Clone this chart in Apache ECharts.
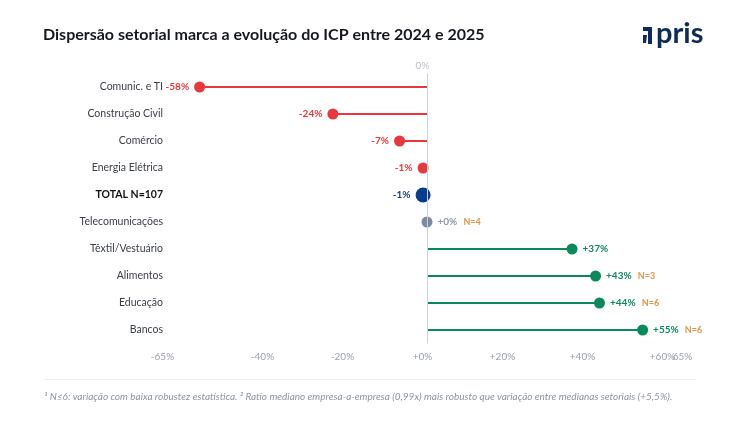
<!DOCTYPE html>
<html>
<head>
<meta charset="utf-8">
<script src="https://cdn.jsdelivr.net/npm/echarts@6/dist/echarts.min.js"></script>
<style>
  html, body { margin: 0; padding: 0; background: #fff; }
  #chart { width: 740px; height: 434px; }
</style>
</head>
<body>
<div id="chart"></div>
<script>
// setores (de cima para baixo)
const categories = ['Comunic. e TI', 'Construção Civil', 'Comércio', 'Energia Elétrica', 'TOTAL N=107',
  'Telecomunicações', 'Têxtil/Vestuário', 'Alimentos', 'Educação', 'Bancos'];
// variação do ICP 2024 -> 2025, em %
const values = [-58, -24, -7, -1, -1, 0, 37, 43, 44, 55];
// amostras pequenas (N<=6)
const sampleNotes = ['', '', '', '', '', 'N=4', '', 'N=3', 'N=6', 'N=6'];
const totalCategory = 'TOTAL N=107';
const tickValues = [-65, -40, -20, 0, 20, 40, 60, 65];

const RED = '#e8383d', GREEN = '#0a8a5a', GRAY = '#7d8ba0', BLUE = '#073c8f', ORANGE = '#e39445';
const FONT = 'Lato';

function kindOf(i) {
  if (categories[i] === totalCategory) return 'blue';
  if (values[i] > 0) return 'green';
  if (values[i] < 0) return 'red';
  return 'gray';
}
const colorOf = { red: RED, green: GREEN, gray: GRAY, blue: BLUE };

function fmtPct(v) {
  return (v >= 0 ? '+' : '') + v + '%';
}

const chart = echarts.init(document.getElementById('chart'));

const stemData = values.map((v, i) => ({
  value: v,
  itemStyle: { color: kindOf(i) === 'blue' ? 'rgba(0,0,0,0)' : colorOf[kindOf(i)] }
}));

const dotData = values.map((v, i) => {
  const k = kindOf(i);
  let txt = '{' + k + '|' + fmtPct(v) + '}';
  if (sampleNotes[i]) txt += '  {n|' + sampleNotes[i] + '}';
  return {
    value: [v, categories[i]],
    symbolSize: k === 'blue' ? 15 : 11,
    itemStyle: { color: colorOf[k], opacity: 1 },
    label: {
      show: true,
      position: v < 0 ? 'left' : 'right',
      distance: 5,
      formatter: txt
    }
  };
});

// o último tick (65%) fica colado no +60%, então vai num eixo próprio
const lastTick = tickValues[tickValues.length - 1];
const labelAxisRange = { min: -65.625, max: 65.125 };
const labelAxisBase = {
  type: 'value', ...labelAxisRange,
  axisLine: { show: false }, axisTick: { show: false }, splitLine: { show: false }
};
const tickLabelStyle = { color: '#9aa1ac', fontSize: 10, margin: 8, fontFamily: FONT, hideOverlap: false };

const option = {
  animation: false,
  backgroundColor: '#fff',
  textStyle: { fontFamily: FONT },
  title: {
    text: 'Dispersão setorial marca a evolução do ICP entre 2024 e 2025',
    left: 38,
    top: 22,
    textStyle: { fontFamily: FONT, fontSize: 16, fontWeight: 'bold', color: '#14181f' }
  },
  grid: { left: 160, right: 57, top: 73.5, bottom: 90.5 },
  xAxis: [
    { type: 'value', min: -68.1, max: 65.3, show: false },
    {
      ...labelAxisBase, position: 'bottom',
      axisLabel: {
        ...tickLabelStyle,
        customValues: tickValues.slice(0, -1),
        formatter: v => fmtPct(v)
      }
    },
    {
      ...labelAxisBase, position: 'bottom',
      axisLabel: {
        ...tickLabelStyle,
        customValues: [lastTick],
        showMaxLabel: true,
        formatter: v => v + '%'
      }
    },
    {
      ...labelAxisBase, position: 'top',
      axisLabel: {
        customValues: [0],
        formatter: () => '0%',
        color: '#b9bfc8', fontSize: 10, margin: 3, fontFamily: FONT
      }
    }
  ],
  yAxis: {
    type: 'category',
    data: categories,
    inverse: true,
    axisLine: { show: false },
    axisTick: { show: false },
    axisLabel: {
      margin: -3,
      color: '#3b4048',
      fontSize: 10.5,
      fontFamily: FONT,
      formatter: v => (v === totalCategory ? '{b|' + v + '}' : v),
      rich: { b: { fontWeight: 'bold', color: '#111', fontSize: 10.5, fontFamily: FONT } }
    }
  },
  series: [
    {
      type: 'bar',
      xAxisIndex: 0,
      barWidth: 2,
      silent: true,
      data: stemData,
      markLine: {
        silent: true,
        symbol: 'none',
        label: { show: false },
        lineStyle: { color: '#c8d2e2', width: 1, type: 'solid' },
        data: [{ xAxis: 0 }]
      }
    },
    {
      type: 'scatter',
      xAxisIndex: 0,
      z: 3,
      data: dotData,
      label: {
        fontFamily: FONT,
        rich: {
          red: { color: RED, fontWeight: 'bold', fontSize: 10, fontFamily: FONT },
          green: { color: GREEN, fontWeight: 'bold', fontSize: 10, fontFamily: FONT },
          gray: { color: '#8a97aa', fontWeight: 'bold', fontSize: 10, fontFamily: FONT },
          blue: { color: '#1d3f72', fontWeight: 'bold', fontSize: 10, fontFamily: FONT },
          n: { color: ORANGE, fontWeight: 'bold', fontSize: 9, fontFamily: FONT }
        }
      }
    }
  ],
  graphic: [
    // logo
    {
      type: 'polygon', left: 643, top: 27,
      shape: { points: [[2, 0], [11, 0], [11, 17], [7, 17], [7, 4], [2, 4]] },
      style: { fill: '#0f2b5b' }
    },
    {
      type: 'polygon', left: 643, top: 35,
      shape: { points: [[0, 0], [4, 0], [3, 8], [0, 8]] },
      style: { fill: '#0f2b5b' }
    },
    {
      type: 'text', left: 656, top: 19,
      style: { text: 'pris', fill: '#0f2b5b', font: 'bold 29px ' + FONT }
    },
    // separador
    {
      type: 'line', shape: { x1: 44, y1: 379.5, x2: 696, y2: 379.5 },
      style: { stroke: '#eef0f3', lineWidth: 1 }
    },
    // nota de rodapé
    {
      type: 'text', left: 44, top: 392,
      style: {
        text: '¹ N≤6: variação com baixa robustez estatística. ² Ratio mediano empresa-a-empresa (0,99x) mais robusto que variação entre medianas setoriais (+5,5%).',
        fill: '#8b93a1',
        font: 'italic 10px ' + FONT
      }
    }
  ]
};

chart.setOption(option);
</script>
</body>
</html>
